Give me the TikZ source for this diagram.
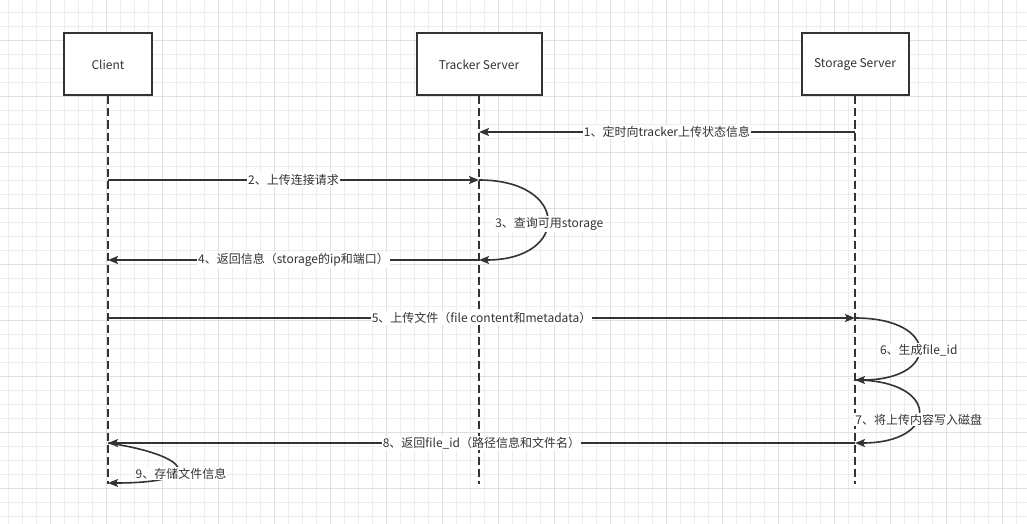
\documentclass[tikz,border=0pt]{standalone}
\usepackage{fontspec}
\setmainfont{Noto Sans CJK SC}
\usetikzlibrary{arrows.meta}
\definecolor{ink}{HTML}{333333}
\definecolor{gminor}{HTML}{EDEDED}
\definecolor{gmajor}{HTML}{E0E0E0}
\begin{document}
\begin{tikzpicture}[x=1pt,y=-1pt,
  actor/.style={draw=ink, line width=2pt, fill=white, minimum width=#1, minimum height=62pt, inner sep=0pt, text=ink, font=\fontsize{12}{14}\selectfont},
  life/.style={draw=ink, line width=2pt, dash pattern=on 8pt off 4pt},
  msg/.style={draw=ink, line width=1.6pt, -{Stealth[length=10pt,width=8pt,inset=2pt]}},
  lab/.style={fill=white, text=ink, inner sep=1pt, font=\fontsize{12}{14}\selectfont},
  gmin/.style={draw=gminor, line width=0.8pt},
  gmaj/.style={draw=gmajor, line width=0.8pt}]
\fill[white] (0,0) rectangle (1027,524);
\useasboundingbox (0,0) rectangle (1027,524);
% grid
\foreach \i in {0,...,72} \draw[gmin] ({8.5+14*\i},0) -- ({8.5+14*\i},524);
\foreach \j in {0,...,36} \draw[gmin] (0,{12+14*\j}) -- (1027,{12+14*\j});
\foreach \i in {0,...,17} \draw[gmaj] ({50.5+56*\i},0) -- ({50.5+56*\i},524);
\foreach \j in {0,...,8} \draw[gmaj] (0,{40+56*\j}) -- (1027,{40+56*\j});
% lifeline ends
\coordinate (cEnd) at (108,484);
\coordinate (tEnd) at (479,484);
\coordinate (sEnd) at (855,484);
% actors
\node[actor=88pt] (client) at (108,64.5) {Client};
\node[actor=125pt] (tracker) at (479,64.5) {Tracker Server};
\node[actor=107pt] (storage) at (855,64.5) {Storage Server};
\draw[life] (client.south) -- (cEnd);
\draw[life] (tracker.south) -- (tEnd);
\draw[life] (storage.south) -- (sEnd);
% message points
\coordinate (t1) at (479,132);
\coordinate (s1) at (855,132);
\coordinate (c2) at (108,180);
\coordinate (t2) at (479,180);
\coordinate (t4) at (479,260);
\coordinate (c4) at (108,260);
\coordinate (c5) at (108,318);
\coordinate (s5) at (855,318);
\coordinate (s6) at (855,380);
\coordinate (s8) at (855,443);
\coordinate (c8) at (108,443);
\coordinate (c9) at (108,483);
% messages
\draw[msg] (s1) -- node[lab]{1、定时向tracker上传状态信息} (t1);
\draw[msg] (c2) -- node[lab]{2、上传连接请求} (t2);
\draw[msg] (t2) .. controls (570,180) and (570,260) .. node[lab, pos=.5, xshift=2pt, yshift=-4pt]{3、查询可用storage} (t4);
\draw[msg] (t4) -- node[lab]{4、返回信息（storage的ip和端口）} (c4);
\draw[msg] (c5) -- node[lab]{5、上传文件（file content和metadata）} (s5);
\draw[msg] (s5) .. controls (940,318) and (940,380) .. node[lab, pos=.5, yshift=-1pt]{6、生成file\_id} (s6);
\draw[msg] (s6) .. controls (940,380) and (940,443) .. node[lab, pos=.5, yshift=-8pt]{7、将上传内容写入磁盘} (s8);
\draw[msg] (s8) -- node[lab]{8、返回file\_id（路径信息和文件名）} (c8);
\draw[msg] (c8) .. controls (190,455) and (210,483) .. node[lab, pos=.5, xshift=4pt, yshift=-6pt]{9、存储文件信息} (c9);
\end{tikzpicture}
\end{document}
